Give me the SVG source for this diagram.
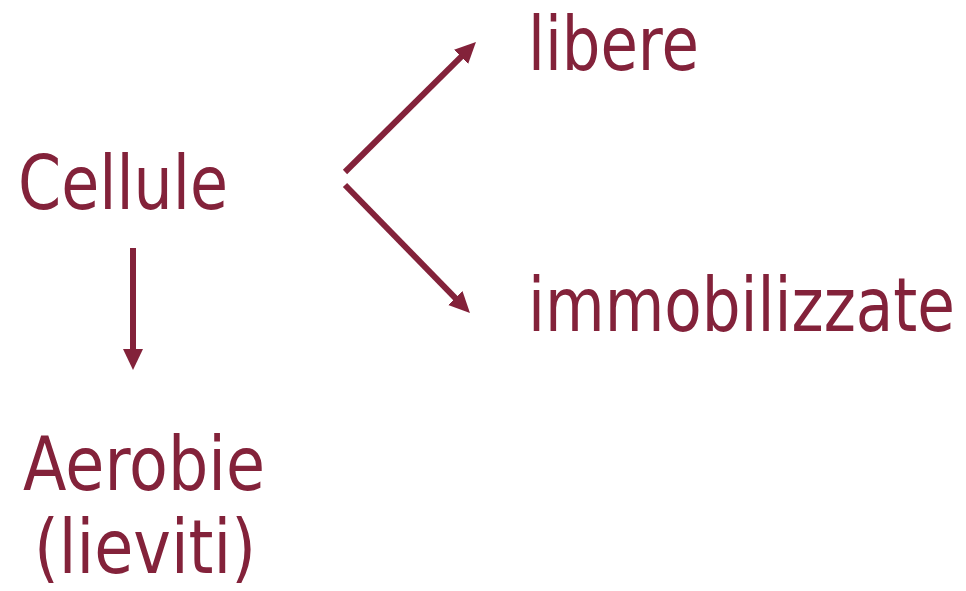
<svg xmlns="http://www.w3.org/2000/svg" width="966" height="591" viewBox="0 0 966 591">
<style>
.t{font-family:Tahoma,"DejaVu Sans","Liberation Sans",sans-serif;font-size:75px;fill:#83223A}
.c{stroke:#83223A;stroke-width:6;fill:none}
</style>
<defs>
<marker id="ah" markerUnits="userSpaceOnUse" markerWidth="22" markerHeight="22" viewBox="0 0 22 22" refX="5" refY="11" orient="auto">
<path d="M0,1 L21,11 L0,21 z" fill="#83223A"/>
</marker>
</defs>
<rect width="966" height="591" fill="#fff"/>
<g id="connectors">
<line class="c" x1="133" y1="248" x2="133" y2="354" marker-end="url(#ah)"/>
<line class="c" x1="345" y1="172" x2="464.6" y2="53.3" marker-end="url(#ah)"/>
<line class="c" x1="345" y1="185" x2="458.8" y2="301.6" marker-end="url(#ah)"/>
</g>
<g id="cellule"><text class="t" x="18" y="209" textLength="210" lengthAdjust="spacingAndGlyphs">Cellule</text></g>
<g id="aerobie">
<text class="t" x="23" y="490" textLength="242" lengthAdjust="spacingAndGlyphs">Aerobie</text>
<text class="t" x="34" y="573" textLength="222" lengthAdjust="spacingAndGlyphs">(lieviti)</text>
</g>
<g id="libere"><text class="t" x="528" y="70" textLength="171" lengthAdjust="spacingAndGlyphs">libere</text></g>
<g id="immobilizzate"><text class="t" transform="translate(528,331) scale(0.83,1)" x="0" y="0" textLength="514.5" lengthAdjust="spacingAndGlyphs">immobilizzate</text></g>
</svg>
